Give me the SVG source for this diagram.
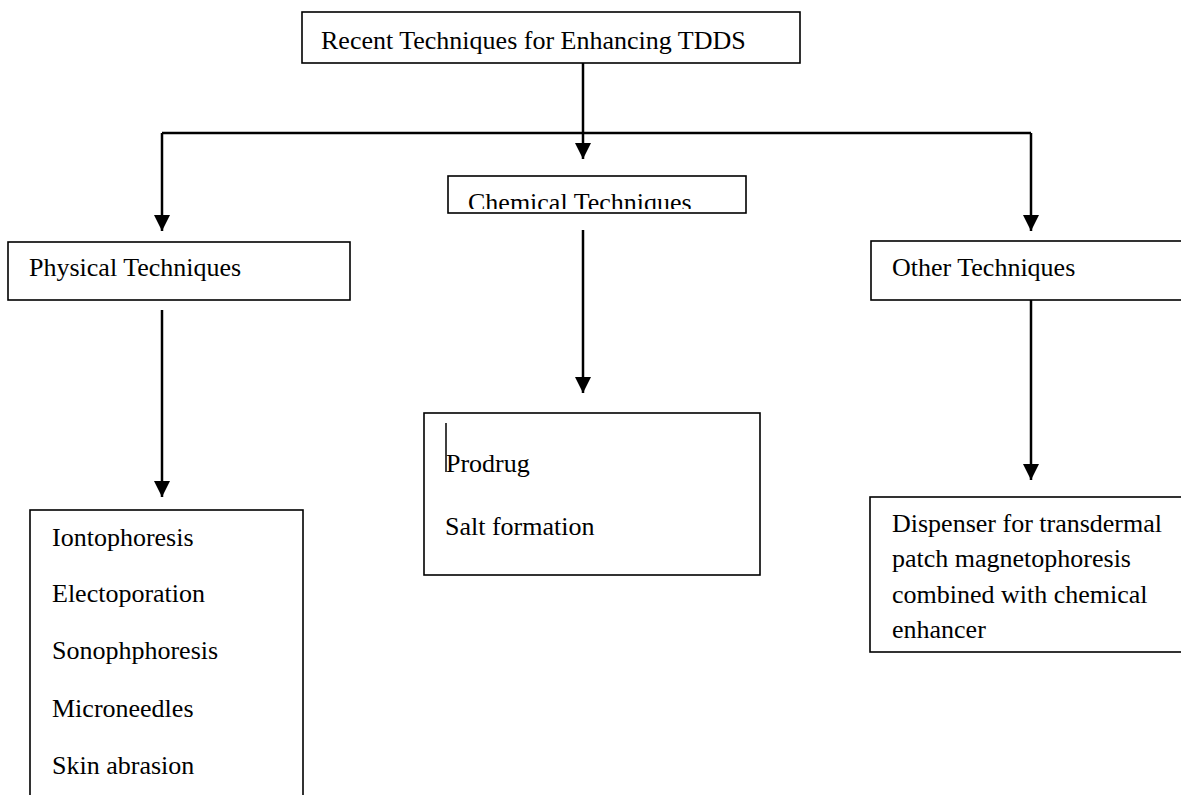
<svg xmlns="http://www.w3.org/2000/svg" width="1181" height="795" viewBox="0 0 1181 795">
<style>
.box{fill:#fff;stroke:#000;stroke-width:1.6}
.t{font-family:"Liberation Serif","Times New Roman",serif;font-size:26px;fill:#000}
.c{fill:none;stroke:#000;stroke-width:2.5}
</style>
<defs>
<marker id="ah" markerUnits="userSpaceOnUse" markerWidth="16" markerHeight="16" refX="16" refY="8" orient="auto">
<path d="M0,0 L16,8 L0,16 Z" fill="#000"/>
</marker>
<clipPath id="chemclip"><rect x="449" y="177" width="297" height="32"/></clipPath>
</defs>
<rect width="1181" height="795" fill="#fff"/>
<g id="connectors">
<path class="c" d="M583,63 V159" marker-end="url(#ah)"/>
<path class="c" d="M162,133 H1031"/>
<path class="c" d="M162,133 V231" marker-end="url(#ah)"/>
<path class="c" d="M1031,133 V231" marker-end="url(#ah)"/>
<path class="c" d="M583,230 V393" marker-end="url(#ah)"/>
<path class="c" d="M162,310 V497" marker-end="url(#ah)"/>
<path class="c" d="M1031,300 V480" marker-end="url(#ah)"/>
</g>
<g id="root">
<rect class="box" x="302" y="12" width="498" height="51"/>
<text class="t" x="321" y="49">Recent Techniques for Enhancing TDDS</text>
</g>
<g id="chemical">
<rect class="box" x="448" y="176" width="298" height="37"/>
<text class="t" x="468" y="211" clip-path="url(#chemclip)">Chemical Techniques</text>
</g>
<g id="physical">
<rect class="box" x="8" y="242" width="342" height="58"/>
<text class="t" x="29" y="276">Physical Techniques</text>
</g>
<g id="other">
<rect class="box" x="871" y="241" width="330" height="59"/>
<text class="t" x="892" y="276">Other Techniques</text>
</g>
<g id="physical-list">
<rect class="box" x="30" y="510" width="273" height="310"/>
<text class="t" x="52" y="546">Iontophoresis</text>
<text class="t" x="52" y="602">Electoporation</text>
<text class="t" x="52" y="659">Sonophphoresis</text>
<text class="t" x="52" y="717">Microneedles</text>
<text class="t" x="52" y="774">Skin abrasion</text>
</g>
<g id="chemical-list">
<rect class="box" x="424" y="413" width="336" height="162"/>
<line x1="446" y1="423" x2="446" y2="472" stroke="#000" stroke-width="1.5"/>
<text class="t" x="446" y="472">Prodrug</text>
<text class="t" x="445" y="535">Salt formation</text>
</g>
<g id="other-list">
<rect class="box" x="870" y="497" width="330" height="155"/>
<text class="t" x="892" y="532">Dispenser for transdermal</text>
<text class="t" x="892" y="567">patch magnetophoresis</text>
<text class="t" x="892" y="603">combined with chemical</text>
<text class="t" x="892" y="638">enhancer</text>
</g>
</svg>
